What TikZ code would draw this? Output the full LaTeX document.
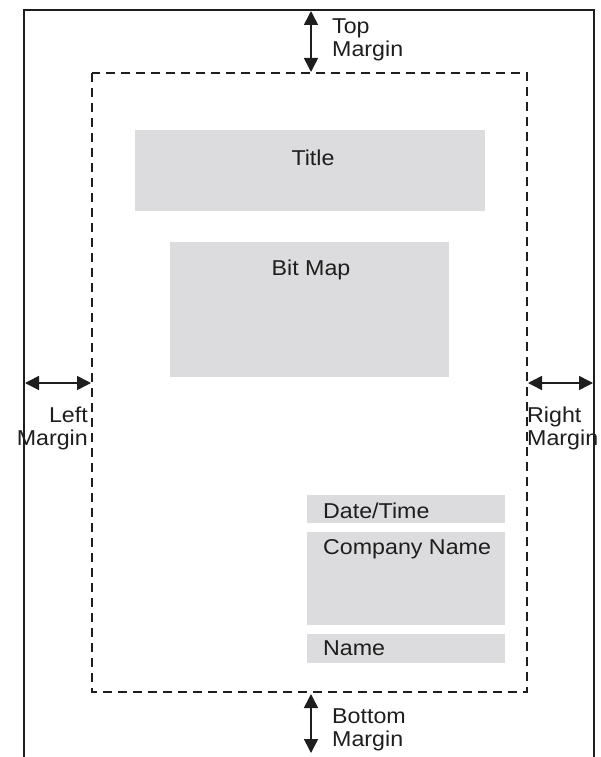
\documentclass[tikz,border=0pt]{standalone}
\usepackage{fontspec}
\setmainfont{Liberation Sans}[FakeStretch=1.08]
\usetikzlibrary{arrows.meta}
\definecolor{boxgray}{RGB}{220,220,222}
\definecolor{ink}{RGB}{30,30,30}
\begin{document}
\begin{tikzpicture}[x=1pt,y=-1pt,
  pageline/.style={line width=1.5pt, draw=ink},
  marginline/.style={line width=1.5pt, draw=ink, dash pattern=on 9pt off 6pt},
  graybox/.style={fill=boxgray, draw=none, inner sep=0pt, anchor=north west},
  dimarrow/.style={line width=1.6pt, draw=ink, {Triangle[length=14pt,width=14pt]}-{Triangle[length=14pt,width=14pt]}},
  lbl/.style={font=\fontsize{21.5}{23}\selectfont, text=ink, inner sep=0pt}]
\useasboundingbox (0,0) rectangle (600,757);
% page outline (open at the bottom)
\coordinate (pbl) at (24,757);
\coordinate (ptl) at (24,10);
\coordinate (ptr) at (594,10);
\coordinate (pbr) at (594,757);
\draw[pageline] (pbl) -- (ptl) -- (ptr) -- (pbr);
% margin (dashed)
\coordinate (mtl) at (92,73);
\coordinate (mbr) at (527,692);
\draw[marginline] (mtl) rectangle (mbr);
% gray boxes
\node[graybox, minimum width=350pt, minimum height=81pt] (title) at (135,130) {};
\node[graybox, minimum width=279pt, minimum height=135pt] (bitmap) at (170,242) {};
\node[graybox, minimum width=198pt, minimum height=28pt] (date) at (307,495) {};
\node[graybox, minimum width=198pt, minimum height=93pt] (company) at (307,532) {};
\node[graybox, minimum width=198pt, minimum height=29pt] (name) at (307,634) {};
% box labels
\node[lbl] (titletxt) at (313,158) {Title};
\node[lbl] (bitmaptxt) at (311,270) {Bit Map};
\node[lbl, anchor=west] (datetxt) at (323,511) {Date/Time};
\node[lbl, anchor=west] (companytxt) at (323,549) {Company Name};
\node[lbl, anchor=west] (nametxt) at (323,648) {Name};
% dimension arrows
\coordinate (ta) at (311,11);
\coordinate (tb) at (311,72);
\draw[dimarrow] (ta) -- (tb);
\coordinate (ba) at (311,694);
\coordinate (bb) at (311,753);
\draw[dimarrow] (ba) -- (bb);
\coordinate (la) at (25,383);
\coordinate (lb) at (91,383);
\draw[dimarrow] (la) -- (lb);
\coordinate (ra) at (528,383);
\coordinate (rb) at (593,383);
\draw[dimarrow] (ra) -- (rb);
% margin labels
\node[lbl, anchor=west, align=left] (toptxt) at (332,40) {Top\\Margin};
\node[lbl, anchor=west, align=left] (bottomtxt) at (332,730) {Bottom\\Margin};
\node[lbl, anchor=east, align=right] (lefttxt) at (88,428) {Left\\Margin};
\node[lbl, anchor=west, align=left] (righttxt) at (527,428) {Right\\Margin};
\end{tikzpicture}
\end{document}
